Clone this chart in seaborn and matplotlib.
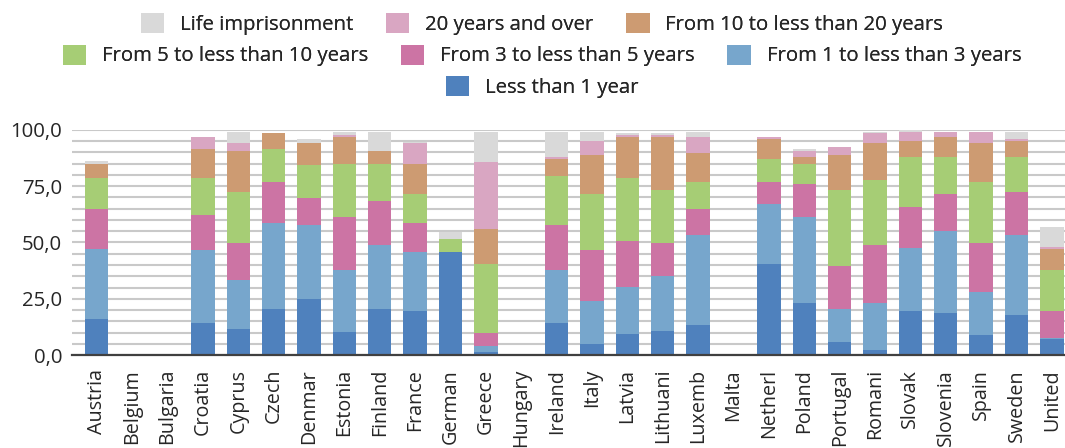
"""Stacked bar chart: prison sentence length shares by country."""

import matplotlib

matplotlib.use("Agg")
import matplotlib.pyplot as plt
import numpy as np
import pandas as pd
import seaborn as sns
from matplotlib.patches import Patch
from matplotlib.ticker import FuncFormatter

countries = [
    "Austria", "Belgium", "Bulgaria", "Croatia", "Cyprus", "Czech", "Denmar",
    "Estonia", "Finland", "France", "German", "Greece", "Hungary", "Ireland",
    "Italy", "Latvia", "Lithuani", "Luxemb", "Malta", "Netherl", "Poland",
    "Portugal", "Romani", "Slovak", "Slovenia", "Spain", "Sweden", "United",
]

bands = [
    "Life imprisonment",
    "20 years and over",
    "From 10 to less than 20 years",
    "From 5 to less than 10 years",
    "From 3 to less than 5 years",
    "From 1 to less than 3 years",
    "Less than 1 year",
]

less_1 = [16.0, 0, 0, 14.4, 11.7, 20.4, 24.7, 10.1, 20.4, 19.6, 45.6, 1.5, 0, 14.4,
          4.7, 9.2, 10.8, 13.5, 0, 40.4, 23.1, 5.6, 2.2, 19.6, 18.7, 9.0, 17.8, 7.3]
from_1_3 = [31.1, 0, 0, 32.1, 21.8, 38.3, 32.9, 27.7, 28.6, 26.0, 0.3, 2.5, 0, 23.4,
            19.2, 20.9, 24.5, 39.8, 0, 26.9, 38.1, 14.8, 20.8, 27.8, 36.4, 19.1, 35.5, 0.1]
from_3_5 = [17.6, 0, 0, 15.6, 16.3, 18.2, 12.3, 23.4, 19.3, 13.1, 0, 5.9, 0, 20.0,
            22.6, 20.7, 14.6, 11.4, 0, 9.6, 14.8, 19.2, 26.0, 18.2, 16.6, 21.8, 19.3, 12.2]
from_5_10 = [14.0, 0, 0, 16.6, 22.6, 14.7, 14.7, 23.5, 16.4, 13.0, 5.8, 30.5, 0, 21.8,
             25.2, 27.9, 23.6, 12.2, 0, 10.4, 8.7, 33.9, 28.8, 22.5, 16.4, 27.0, 15.5, 18.2]
from_10_20 = [6.2, 0, 0, 12.9, 18.4, 7.1, 9.6, 12.3, 6.1, 13.0, 0, 15.7, 0, 7.7,
              17.3, 18.3, 23.5, 13.0, 0, 8.7, 3.4, 15.5, 16.4, 7.0, 8.8, 17.3, 7.0, 9.5]
over_20 = [0, 0, 0, 5.3, 3.4, 0, 0, 0.9, 0, 9.5, 0, 29.5, 0, 0.8,
           6.1, 0.9, 0.9, 7.0, 0, 0.9, 2.7, 3.4, 4.5, 4.2, 2.4, 5.1, 0.9, 0.8]
life = [1.5, 0, 0, 0, 5.1, 0, 1.7, 1.4, 8.5, 0.6, 3.1, 13.7, 0, 11.2,
        4.2, 0.6, 0.9, 2.4, 0, 0, 0.8, 0, 0.6, 0.5, 0, 0, 3.3, 8.6]

colors = ["#d9d9d9", "#d9a6c2", "#cd9b72", "#a6cd75", "#cc74a4", "#77a6cc", "#4f81bd"]

sns.set_theme(style="white")
plt.rcParams["font.family"] = ["Open Sans", "DejaVu Sans"]

series = [life, over_20, from_10_20, from_5_10, from_3_5, from_1_3, less_1]
rows = []
for band, values in zip(bands, series):
    for i, v in enumerate(values):
        rows.append({"pos": i, "band": band, "value": v})
df = pd.DataFrame(rows)

fig = plt.figure(figsize=(10.65, 4.48), dpi=100)
ax = fig.add_axes([72 / 1065, 93 / 448, 993 / 1065, 225 / 448])

sns.histplot(
    data=df, x="pos", weights="value", hue="band", hue_order=bands,
    multiple="stack", discrete=True, shrink=0.66, palette=colors,
    alpha=1, linewidth=0, edgecolor="none", legend=False, ax=ax,
)

ax.set_xlim(-0.7, 27.37)
ax.set_ylim(0, 100)
ax.set_xticks(range(len(countries)))
ax.set_xticklabels(countries, rotation=90, fontsize=14.2, color="#262626")
ax.set_yticks([0, 25, 50, 75, 100])
ax.set_yticks(np.arange(0, 101, 5), minor=True)
ax.yaxis.set_major_formatter(FuncFormatter(lambda v, _: f"{v:.1f}".replace(".", ",")))
ax.tick_params(axis="y", labelsize=14.7, labelcolor="#262626", length=0, pad=7)
ax.tick_params(axis="x", length=0, pad=10)
ax.tick_params(axis="y", which="minor", length=0)
ax.grid(axis="y", which="both", color="#c9c9c9", linewidth=1.5)
ax.set_axisbelow(True)
ax.set_xlabel("")
ax.set_ylabel("")
for side in ["left", "right", "top"]:
    ax.spines[side].set_visible(False)
ax.spines["bottom"].set_color("#404040")
ax.spines["bottom"].set_linewidth(1.6)

# legend rows laid out like the source: 3 / 3 / 1, each row centred
handles = [Patch(facecolor=c, edgecolor="none") for c in colors]
row_groups = [(0, 3, 24), (3, 6, 55.5), (6, 7, 87)]
for start, stop, ypix in row_groups:
    leg = fig.legend(
        handles[start:stop], bands[start:stop], ncol=stop - start,
        loc="center", bbox_to_anchor=(0.509, 1 - ypix / 448),
        frameon=False, fontsize=14.7, handlelength=1.14, handleheight=1.14,
        handletextpad=0.78, columnspacing=1.6, borderpad=0, borderaxespad=0,
    )
    for t in leg.get_texts():
        t.set_color("#262626")
    fig.add_artist(leg)

fig.savefig("out.png", dpi=100)
plt.close(fig)
